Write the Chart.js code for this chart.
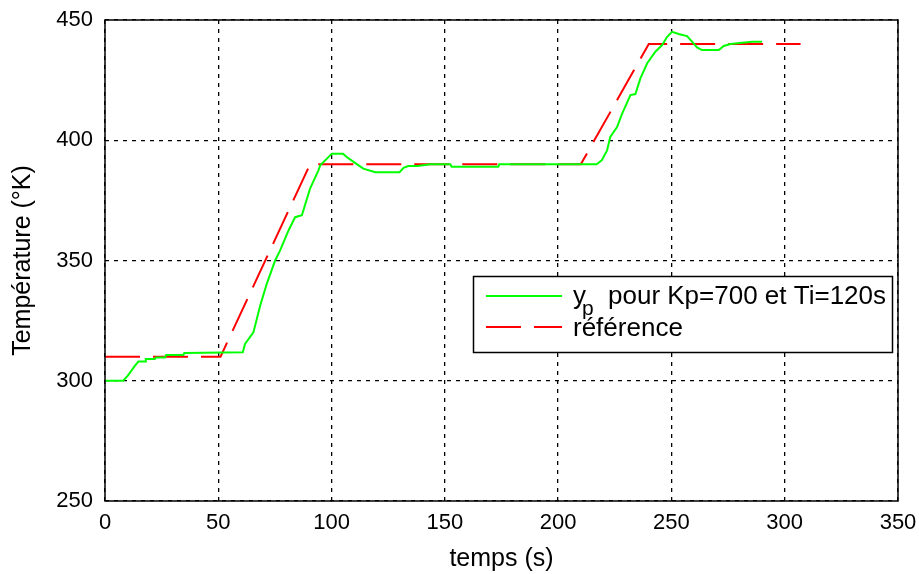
<!DOCTYPE html>
<html>
<head>
<meta charset="utf-8">
<script src="https://cdn.jsdelivr.net/npm/chart.js@4/dist/chart.umd.min.js"></script>
<style>
    html, body { margin: 0; padding: 0; background: #fff; }
    #wrap { width: 919px; height: 574px; position: relative; }
</style>
</head>
<body>
<div id="wrap"><canvas id="chartTemp"></canvas></div>
<script>
// Sortie y_p
const tempsYp = [0, 8, 10, 13, 14.7, 17.7, 18, 22, 22.5, 26.5, 27, 34.6, 35, 60.8, 61.8, 65.5, 68.5, 71.4, 75.1, 77.3,
    81, 83.9, 86.9, 90.5, 94.2, 95, 98.6, 100.1, 105, 106.7, 109.7, 114, 119.3, 130, 131.8, 133.8, 138, 143.5,
    152.4, 153, 173.6, 174, 217, 219.3, 221.6, 223, 226, 228.2, 231.9, 234.1, 236.3, 239.3, 242.9, 245.9, 248.1,
    250.3, 253.2, 256.9, 259.1, 261.3, 263.5, 270.9, 273.1, 276, 285.6, 290];
const valeursYp = [300, 300, 302, 306, 308, 308, 309, 309, 309.7, 309.7, 310.7, 310.7, 311.5, 311.8, 315.3, 320.1, 331.3, 340.3, 350, 354.2,
    362.5, 368, 368.8, 379.9, 387.5, 389.6, 393, 394.4, 394.4, 393, 391, 388.2, 386.7, 386.7, 388.5, 389.3, 389.3, 390,
    390, 389, 389, 390, 390, 391.7, 395.8, 401.4, 405.5, 411, 418.8, 419.2, 425.7, 432, 436.8, 439.6, 443,
    445.1, 444.2, 443.3, 441, 438.6, 437.5, 437.5, 439.2, 440, 441, 441];

// Consigne (référence)
const tempsRef = [0, 51, 90.5, 210, 240, 307];
const valeursRef = [310, 310, 390, 390, 440, 440];

const ticksX = [0, 50, 100, 150, 200, 250, 300, 350];
const ticksY = [250, 300, 350, 400, 450];

const police = "'Liberation Sans', Arial, Helvetica, sans-serif";

// cadre noir autour de la zone de tracé
const cadrePlugin = {
    id: 'cadre',
    afterDatasetsDraw(chart) {
        const { ctx, chartArea: a } = chart;
        ctx.save();
        ctx.setLineDash([]);
        ctx.strokeStyle = '#000';
        ctx.lineWidth = 1.5;
        ctx.strokeRect(a.left, a.top, a.right - a.left, a.bottom - a.top);
        ctx.restore();
    }
};

// légende façon MATLAB, avec l'indice p
const legendePlugin = {
    id: 'legendeMatlab',
    afterDraw(chart) {
        const { ctx } = chart;
        const x0 = 473, y0 = 276, w = 419, h = 76;
        ctx.save();
        ctx.fillStyle = '#fff';
        ctx.fillRect(x0, y0, w, h);
        ctx.strokeStyle = '#000';
        ctx.lineWidth = 1.5;
        ctx.setLineDash([]);
        ctx.strokeRect(x0 + 0.5, y0 + 0.5, w, h);

        ctx.lineWidth = 2;
        ctx.strokeStyle = '#00ff00';
        ctx.beginPath(); ctx.moveTo(486, 296); ctx.lineTo(562, 296); ctx.stroke();
        ctx.strokeStyle = '#ff0000';
        ctx.setLineDash([35, 13]);
        ctx.beginPath(); ctx.moveTo(486, 327); ctx.lineTo(562, 327); ctx.stroke();
        ctx.setLineDash([]);

        ctx.fillStyle = '#000';
        ctx.textBaseline = 'alphabetic';
        ctx.font = '26px ' + police;
        ctx.fillText('y', 573, 304);
        ctx.font = '21px ' + police;
        ctx.fillText('p', 582, 315);
        ctx.font = '26px ' + police;
        ctx.fillText('pour Kp=700 et Ti=120s', 608, 304);
        ctx.fillText('référence', 573, 336);
        ctx.restore();
    }
};

const ctx = document.getElementById('chartTemp');
new Chart(ctx, {
    type: 'line',
    data: {
        datasets: [
            {
                label: 'y_p pour Kp=700 et Ti=120s',
                data: tempsYp.map((t, i) => ({ x: t, y: valeursYp[i] })),
                borderColor: '#00ff00',
                borderWidth: 2,
                pointRadius: 0,
                tension: 0
            },
            {
                label: 'référence',
                data: tempsRef.map((t, i) => ({ x: t, y: valeursRef[i] })),
                borderColor: '#ff0000',
                borderWidth: 2,
                borderDash: [35, 13],
                pointRadius: 0,
                tension: 0
            }
        ]
    },
    options: {
        responsive: true,
        maintainAspectRatio: false,
        animation: false,
        layout: { padding: { top: 20, right: 21, left: 0, bottom: 0 } },
        plugins: { legend: { display: false }, tooltip: { enabled: false } },
        scales: {
            x: {
                type: 'linear',
                min: 0, max: 350,
                afterBuildTicks: s => { s.ticks = ticksX.map(v => ({ value: v })); },
                afterFit: s => { s.height = 73; s.paddingLeft = 0; s.paddingRight = 0; },
                ticks: { color: '#000', font: { family: police, size: 22 }, padding: 9, maxRotation: 0 },
                grid: { color: '#000', lineWidth: 1.3, drawTicks: false },
                border: { display: false, dash: [4, 5] },
                title: { display: true, text: 'temps (s)', color: '#000', font: { family: police, size: 25 }, padding: { top: 0, bottom: 0 } }
            },
            y: {
                min: 250, max: 450,
                afterBuildTicks: s => { s.ticks = ticksY.map(v => ({ value: v })); },
                afterFit: s => { s.width = 105; s.paddingTop = 0; s.paddingBottom = 0; },
                ticks: { color: '#000', font: { family: police, size: 22 }, padding: 12 },
                grid: { color: '#000', lineWidth: 1.3, drawTicks: false },
                border: { display: false, dash: [4, 5] },
                title: { display: true, text: 'Température (°K)', color: '#000', font: { family: police, size: 25 }, padding: { top: 8, bottom: 0 } }
            }
        }
    },
    plugins: [cadrePlugin, legendePlugin]
});
</script>
</body>
</html>
